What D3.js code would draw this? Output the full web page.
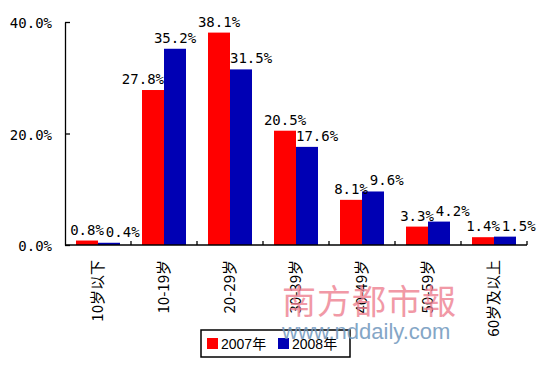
<!DOCTYPE html>
<html><head><meta charset="utf-8">
<script src="https://cdn.jsdelivr.net/npm/d3@7/dist/d3.min.js"></script>
<style>body{margin:0;background:#fff}</style>
</head><body>
<svg id="c" width="550" height="371"></svg>
<script>
const categories = ["10岁以下","10-19岁","20-29岁","30-39岁","40-49岁","50-59岁","60岁及以上"];
const seriesNames = ["2007年","2008年"];
const values2007 = [0.8,27.8,38.1,20.5,8.1,3.3,1.4];
const values2008 = [0.4,35.2,31.5,17.6,9.6,4.2,1.5];
const yTicks = [0,20,40];
const colors = ["#ff0000","#0000b4"];

const svg = d3.select("#c");
const L=65,R=527,T=22,B=245;
const y = d3.scaleLinear().domain([0,40]).range([B,T]);
const x0 = d3.scaleBand().domain(categories).range([L,R]).paddingInner(1/3).paddingOuter(1/6);
const x1 = d3.scaleBand().domain(seriesNames).range([0,x0.bandwidth()]);
const color = d3.scaleOrdinal().domain(seriesNames).range(colors);
const data = categories.map((c,i)=>({cat:c, vals:[{s:seriesNames[0],v:values2007[i]},{s:seriesNames[1],v:values2008[i]}]}));

// bars
const g = svg.append("g");
data.forEach(d=>{
  d.vals.forEach(s=>{
    g.append("rect").attr("x",x0(d.cat)+x1(s.s)).attr("y",y(s.v))
      .attr("width",x1.bandwidth()).attr("height",B-y(s.v)).attr("fill",color(s.s));
  });
});

// y axis
const ya = svg.append("g").attr("transform",`translate(${L},0)`)
  .call(d3.axisLeft(y).tickValues(yTicks).tickSizeInner(-5).tickSizeOuter(0).tickPadding(13).tickFormat(d=>d3.format(".1f")(d)+"%"));
ya.select(".domain").attr("stroke","#000").attr("stroke-width",1.3);
ya.selectAll("line").attr("stroke","#000").attr("stroke-width",1.3);
ya.selectAll("text").attr("font-family","DejaVu Sans Mono").attr("font-size",14).attr("fill","#000").attr("dy","0.4em");

// x axis
svg.append("line").attr("x1",L).attr("x2",R).attr("y1",B).attr("y2",B).attr("stroke","#000").attr("stroke-width",1.3);
const half = x0.step()*x0.paddingInner()/2;
categories.forEach((c,i)=>{
  const xb = x0(c)+x0.bandwidth()+half;
  svg.append("line").attr("x1",xb).attr("x2",xb).attr("y1",B).attr("y2",B-4).attr("stroke","#000").attr("stroke-width",1.3);
});
categories.forEach(c=>{
  const cx = x0(c)+x0.bandwidth()/2;
  svg.append("text").attr("transform",`translate(${cx+5},260) rotate(-90)`)
    .attr("text-anchor","end").attr("font-family","Noto Sans CJK SC").attr("font-size",15).attr("fill","#000")
    .text(c);
});

// value labels with simple collision avoidance
const lab = svg.append("g").attr("font-family","DejaVu Sans Mono").attr("font-size",14).attr("fill","#000");
data.forEach(d=>{
  const bx = d.vals.map(s=>x0(d.cat)+x1(s.s));
  const bw = x1.bandwidth();
  const tops = d.vals.map(s=>y(s.v));
  const texts = d.vals.map(s=>lab.append("text").text(d3.format(".1f")(s.v)+"%"));
  const w = texts.map(t=>t.node().getComputedTextLength());
  const base = tops.map(t=>t-6);
  let left = [bx[0]+bw/2-w[0]/2, bx[1]+bw/2-w[1]/2];
  if (left[0]+w[0] > bx[1] && base[0]-3 > tops[1]) left[0] = bx[0]+bw-w[0];
  if (left[1] < bx[0]+bw && base[1]-3 > tops[0]) left[1] = bx[1];
  const yOver = Math.abs(base[0]-base[1]) < 11;
  if (yOver && left[0]+w[0]+2 > left[1]) left[1] = left[0]+w[0]+2;
  texts.forEach((t,i)=>t.attr("x",left[i]).attr("y",base[i]));
});

// legend
const lg = svg.append("g");
lg.append("rect").attr("x",201).attr("y",330).attr("width",149).attr("height",27).attr("fill","#fff").attr("stroke","#000").attr("stroke-width",1.5);
seriesNames.forEach((s,i)=>{
  const lx = 207+i*71;
  lg.append("rect").attr("x",lx).attr("y",338).attr("width",11).attr("height",11).attr("fill",color(s));
  lg.append("text").attr("x",lx+14).attr("y",349).attr("font-family","Liberation Sans, Noto Sans CJK SC").attr("font-size",14).attr("fill","#000").text(s);
});

// watermark
svg.append("text").attr("x",282).attr("y",314).attr("font-family","Noto Sans CJK SC").attr("font-size",34)
  .attr("fill","#ee8090").attr("opacity",0.8).attr("letter-spacing",1).text("南方都市報");
svg.append("text").attr("x",282).attr("y",339).attr("font-family","Liberation Sans").attr("font-size",22)
  .attr("fill","#6f97bd").attr("opacity",0.85).text("www.nddaily.com");
</script>
</body></html>
